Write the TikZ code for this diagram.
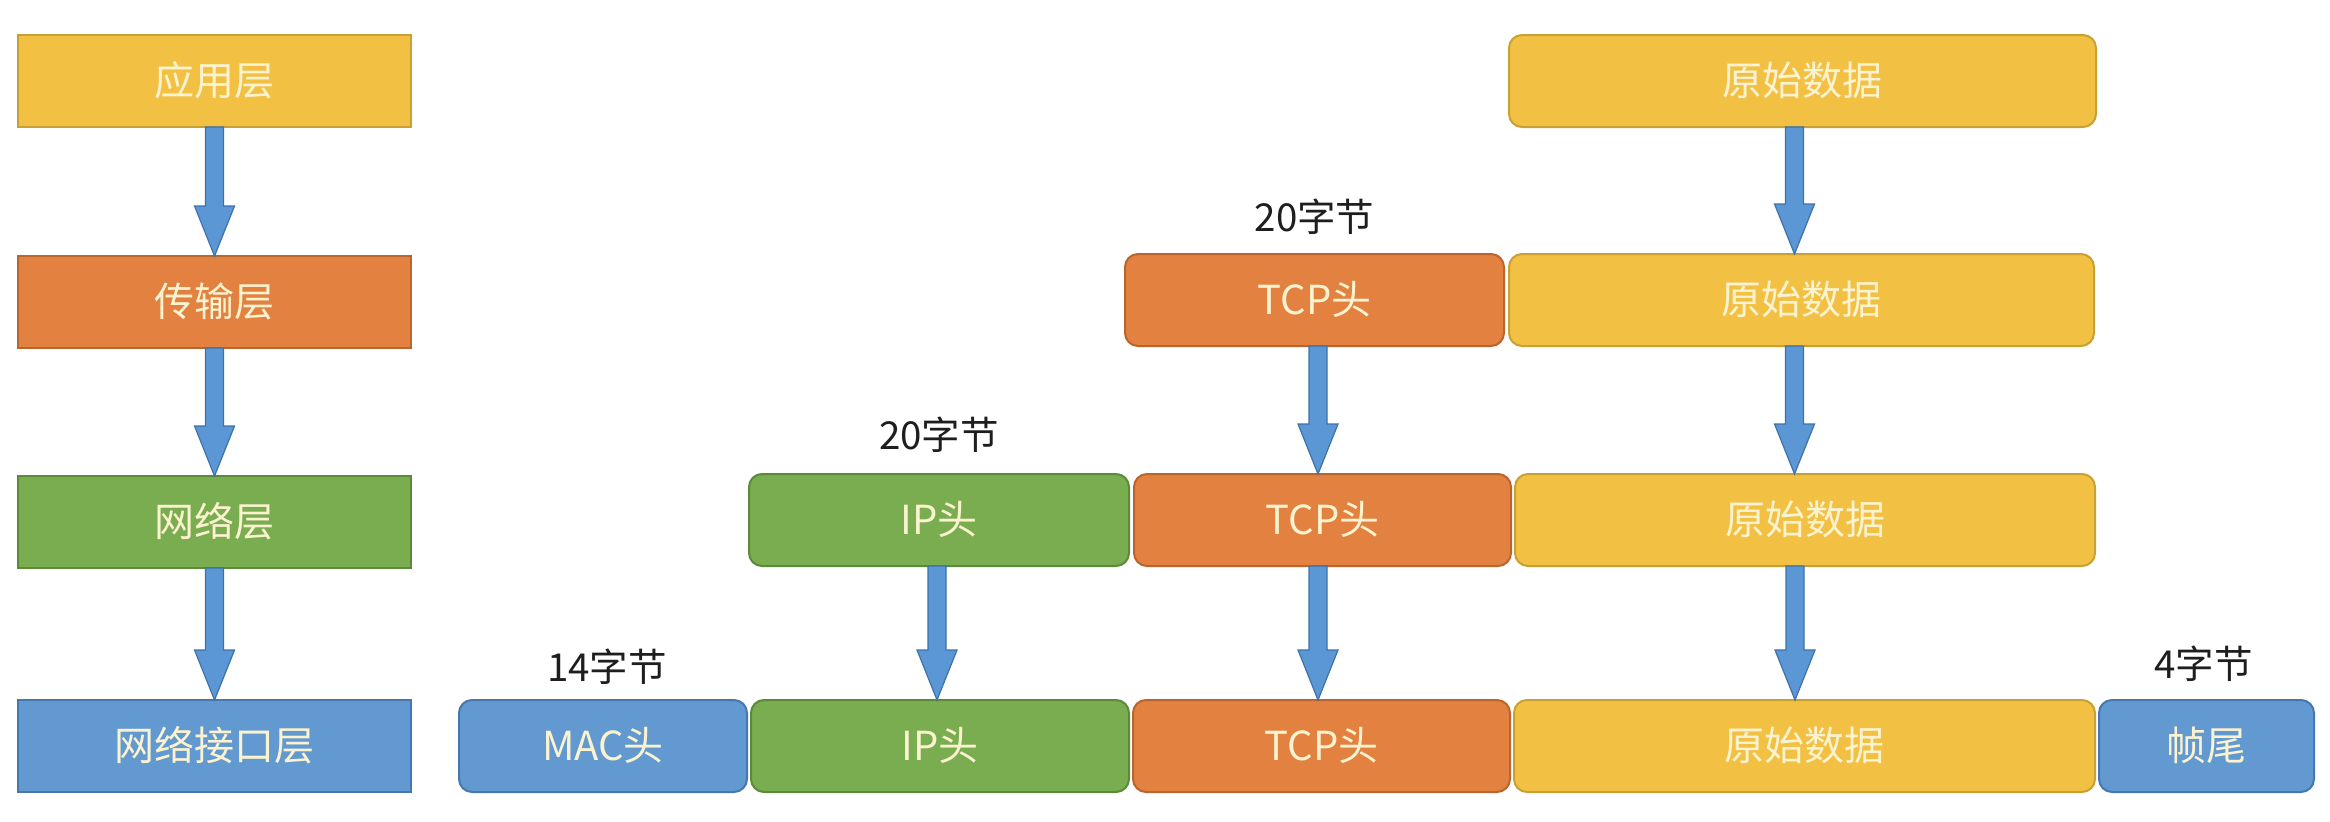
\documentclass[tikz,border=0pt]{standalone}
\usepackage{fontspec}
\setmainfont{Noto Sans CJK SC}
\usetikzlibrary{calc}
\definecolor{yfill}{HTML}{F2C144}
\definecolor{ydraw}{HTML}{C9A032}
\definecolor{ofill}{HTML}{E28140}
\definecolor{odraw}{HTML}{B9652E}
\definecolor{gfill}{HTML}{7AAD50}
\definecolor{gdraw}{HTML}{5C8A3B}
\definecolor{bfill}{HTML}{6399D1}
\definecolor{bdraw}{HTML}{4677AE}
\definecolor{afill}{HTML}{5B97D4}
\definecolor{adraw}{HTML}{3E72AA}
\definecolor{tcream}{HTML}{FBF3CF}
\definecolor{lblc}{HTML}{1E1E1E}
\newcommand\dnarrow[2]{%
  \path[barr] let \p1=#1, \p2=#2 in
   (\x1-9pt,\y1) -- (\x1+9pt,\y1) -- (\x1+9pt,\y2+50pt) -- (\x1+20pt,\y2+50pt)
   -- (\x1,\y2) -- (\x1-20pt,\y2+50pt) -- (\x1-9pt,\y2+50pt) -- cycle;}
\begin{document}
\begin{tikzpicture}[x=1pt,y=-1pt,
  box/.style={draw, line width=2pt, minimum height=92pt, inner sep=0pt, outer sep=0pt,
    text=tcream, font=\fontsize{40}{48}\selectfont, text height=34pt, text depth=6pt},
  layer/.style={box},
  seg/.style={box, rounded corners=13pt},
  yel/.style={fill=yfill, draw=ydraw},
  ora/.style={fill=ofill, draw=odraw},
  gre/.style={fill=gfill, draw=gdraw},
  blu/.style={fill=bfill, draw=bdraw},
  lbl/.style={text=lblc, inner sep=0pt, font=\fontsize{38.5}{46}\selectfont, text height=33pt, text depth=6pt},
  barr/.style={fill=afill, draw=adraw, line width=1.2pt, line join=miter}
]
\useasboundingbox[fill=white] (0,0) rectangle (2330,822);
% left column
\node[layer, yel, minimum width=393pt] (L1) at (214.5,81) {应用层};
\node[layer, ora, minimum width=393pt] (L2) at (214.5,302) {传输层};
\node[layer, gre, minimum width=393pt] (L3) at (214.5,522) {网络层};
\node[layer, blu, minimum width=393pt] (L4) at (214.5,746) {网络接口层};
% row 1
\node[seg, yel, minimum width=587pt] (d1) at (1802.5,81) {原始数据};
% row 2
\node[seg, ora, minimum width=379pt] (t2) at (1314.5,300) {TCP头};
\node[seg, yel, minimum width=585pt] (d2) at (1801.5,300) {原始数据};
% row 3
\node[seg, gre, minimum width=380pt] (i3) at (939,520) {IP头};
\node[seg, ora, minimum width=377pt] (t3) at (1322.5,520) {TCP头};
\node[seg, yel, minimum width=580pt] (d3) at (1805,520) {原始数据};
% row 4
\node[seg, blu, minimum width=288pt] (m4) at (603,746) {MAC头};
\node[seg, gre, minimum width=378pt] (i4) at (940,746) {IP头};
\node[seg, ora, minimum width=377pt] (t4) at (1321.5,746) {TCP头};
\node[seg, yel, minimum width=581pt] (d4) at (1804.5,746) {原始数据};
\node[seg, blu, minimum width=215pt] (f4) at (2206.5,746) {帧尾};
% labels
\node[lbl] (lt) at ($(t2.north)+(0,-36)$) {20字节};
\node[lbl] (li) at ($(i3.north)+(0,-38)$) {20字节};
\node[lbl] (lm) at ($(m4.north)+(4,-32)$) {14字节};
\node[lbl] (lf) at ($(f4.north)+(-3,-35)$) {4字节};
% arrows
\dnarrow{(L1.south)}{(L2.north)}
\dnarrow{(L2.south)}{(L3.north)}
\dnarrow{(L3.south)}{(L4.north)}
\dnarrow{($(d1.south)+(-8,0)$)}{(d2.north)}
\dnarrow{($(d2.south)+(-7,0)$)}{(d3.north)}
\dnarrow{($(d3.south)+(-10,0)$)}{(d4.north)}
\dnarrow{($(t2.south)+(3.5,0)$)}{(t3.north)}
\dnarrow{($(t3.south)+(-4.5,0)$)}{(t4.north)}
\dnarrow{($(i3.south)+(-2,0)$)}{(i4.north)}
\end{tikzpicture}
\end{document}
